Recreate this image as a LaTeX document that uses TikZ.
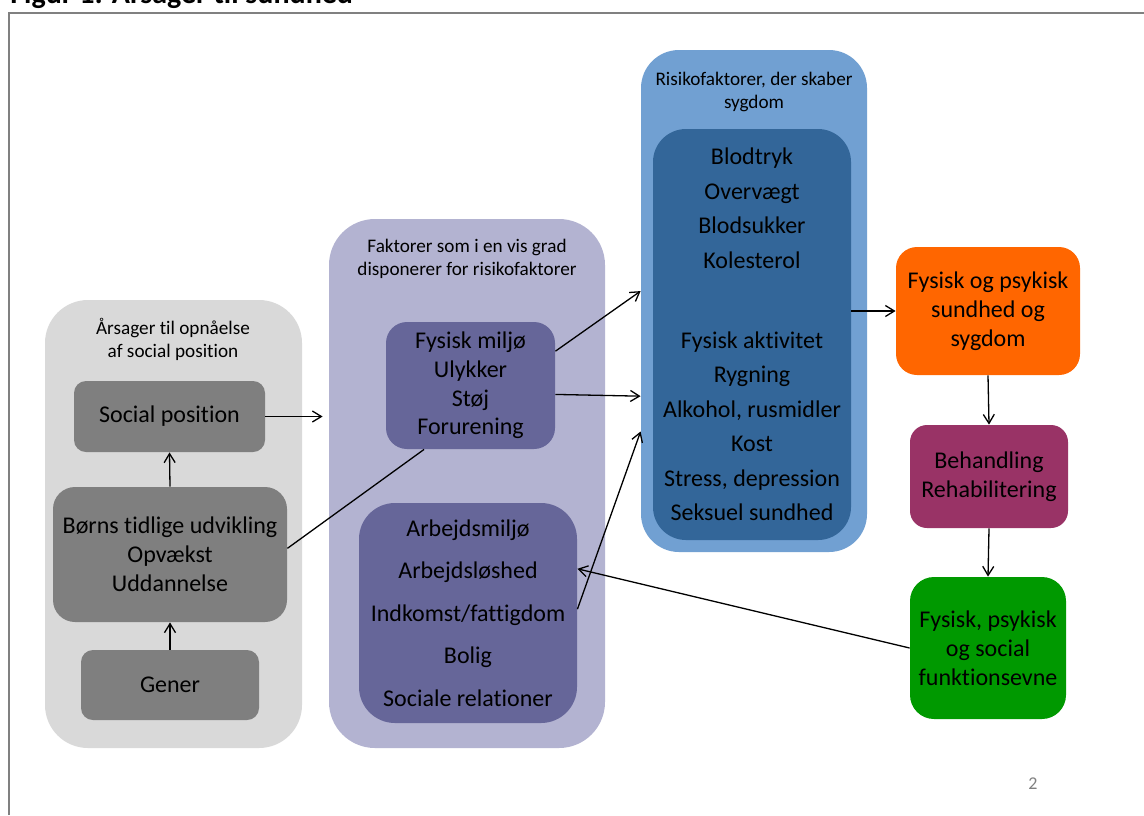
\documentclass[tikz,border=0pt]{standalone}
\usepackage{fontspec}
\setmainfont{Carlito}[Ligatures=NoCommon]
\usetikzlibrary{arrows.meta}

\definecolor{framegray}{HTML}{808080}
\definecolor{lightgroup}{HTML}{D9D9D9}
\definecolor{darkgray}{HTML}{7F7F7F}
\definecolor{lavender}{HTML}{B3B3D1}
\definecolor{slatepurple}{HTML}{666699}
\definecolor{skyblue}{HTML}{71A0D2}
\definecolor{deepblue}{HTML}{336699}
\definecolor{healthorange}{HTML}{FF6600}
\definecolor{plum}{HTML}{993366}
\definecolor{leafgreen}{HTML}{009900}

\begin{document}
\begin{tikzpicture}[x=0.5pt, y=-0.5pt,
  group/.style={rectangle, inner sep=0pt},
  box/.style={rectangle, inner sep=0pt, align=center, font=\fontsize{12}{14.4}\selectfont},
  header/.style={align=center, font=\fontsize{9.6}{11.5}\selectfont},
  conn/.style={line width=0.65pt, -{Straight Barb[length=4.5pt,width=5.5pt]}},
  plain/.style={line width=0.65pt}]
\useasboundingbox (0,0) rectangle (1144,815);

% frame and title
\draw[framegray, line width=1pt] (9,815) -- (9,13) -- (1144,13);
\node[anchor=base west, inner sep=0pt, font=\fontsize{15}{18}\selectfont\bfseries] (title) at (10,3) {Figur 1: Årsager til sundhed};

% groups
\node[group, fill=lightgroup, rounded corners=21.5pt, minimum width=128.5pt, minimum height=224pt] (grp1) at (173.5,524) {};
\node[group, fill=lavender, rounded corners=23pt, minimum width=138pt, minimum height=264.5pt] (grp2) at (467,483.5) {};
\node[group, fill=skyblue, rounded corners=19pt, minimum width=113pt, minimum height=251pt] (grp3) at (754,301) {};

\node[header] (hdr1) at (173,339) {Årsager til opnåelse\\af social position};
\node[header] (hdr2) at (467,258.5) {Faktorer som i en vis grad\\disponerer for risikofaktorer};
\node[header] (hdr3) at (754,91.5) {Risikofaktorer, der skaber\\sygdom};

% boxes
\node[box, fill=darkgray, rounded corners=6pt, minimum width=95.5pt, minimum height=35.5pt] (social) at (169.5,416.5) {Social position};
\node[box, fill=darkgray, rounded corners=11pt, minimum width=117pt, minimum height=67.5pt] (boerns) at (170,554.5) {Børns tidlige udvikling\\Opvækst\\Uddannelse};
\node[box, fill=darkgray, rounded corners=6pt, minimum width=89pt, minimum height=35pt] (gener) at (170,685) {Gener};

\node[box, fill=slatepurple, rounded corners=10.5pt, minimum width=84.5pt, minimum height=63.5pt] (miljoe) at (470.5,385.5) {Fysisk miljø\\Ulykker\\Støj\\Forurening};
\node[box, fill=slatepurple, rounded corners=18pt, minimum width=109pt, minimum height=110pt] (arbejd) at (468,613) {Arbejdsmiljø\\[6.85pt]Arbejdsløshed\\[6.85pt]Indkomst/fattigdom\\[6.85pt]Bolig\\[6.85pt]Sociale relationer};

\node[box, fill=deepblue, rounded corners=16.5pt, minimum width=99pt, minimum height=205.5pt] (risk) at (752,334.5) {Blodtryk\\[2.85pt]Overvægt\\[2.85pt]Blodsukker\\[2.85pt]Kolesterol\\[25.6pt]Fysisk aktivitet\\[2.85pt]Rygning\\[2.85pt]Alkohol, rusmidler\\[2.85pt]Kost\\[2.85pt]Stress, depression\\[2.85pt]Seksuel sundhed};

\node[box, fill=healthorange, rounded corners=10.5pt, minimum width=92pt, minimum height=64pt] (sundhed) at (988,311) {Fysisk og psykisk\\sundhed og\\sygdom};
\node[box, fill=plum, rounded corners=8.5pt, minimum width=79pt, minimum height=51.5pt] (behandl) at (989,476.5) {Behandling\\Rehabilitering};
\node[box, fill=leafgreen, rounded corners=12pt, minimum width=78pt, minimum height=71pt] (funktion) at (988,648) {Fysisk, psykisk\\og social\\funktionsevne};

\node[text=framegray, font=\fontsize{9}{10.8}\selectfont] (page) at (1033,784) {2};

% connectors
\draw[conn] (gener.north) -- (boerns.south);
\draw[conn] (boerns.north) -- (social.south);
\draw[conn, shorten >=3pt] (social.east) -- (social.east -| grp2.west);
\draw[plain] (boerns.3) -- (miljoe.234);
\draw[conn] (miljoe.22) -- (grp3.175);
\draw[conn] (miljoe.-6) -- (grp3.220);
\draw[conn] (arbejd.2) -- (grp3.229);
\draw[conn] (sundhed.west -| risk.east) -- (sundhed.west);
\draw[conn] (sundhed.south) -- (behandl.north);
\draw[conn] (behandl.south) -- (funktion.north);
\draw[conn] (funktion.west) -- (arbejd.22);
\end{tikzpicture}
\end{document}
